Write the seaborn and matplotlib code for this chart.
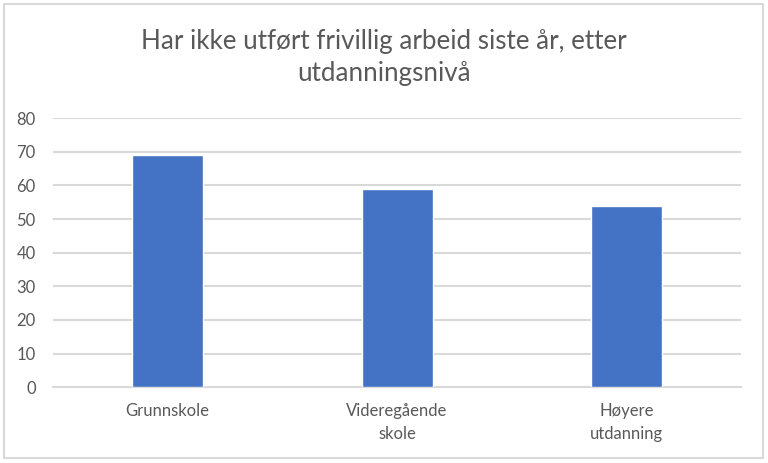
import matplotlib
matplotlib.use("Agg")
import matplotlib.pyplot as plt
import seaborn as sns
import pandas as pd
from matplotlib.patches import Rectangle

# data
categories = ["Grunnskole", "Videregående\nskole", "Høyere\nutdanning"]
values = [69, 59, 54]

df = pd.DataFrame({"kategori": categories, "andel": values})

sns.set_theme(style="white")
plt.rcParams["font.family"] = ["Lato", "DejaVu Sans"]

grey = "#595959"
gridc = "#d9d9d9"

fig = plt.figure(figsize=(7.68, 4.63), dpi=100)
ax = fig.add_axes([0.069, 0.1635, 0.896, 0.5815])

sns.barplot(data=df, x="kategori", y="andel", color="#4472c4",
            saturation=1, width=0.31, ax=ax, zorder=3)

ax.set_ylim(0, 80)
ax.set_yticks(range(0, 81, 10))
ax.yaxis.grid(True, color=gridc, linewidth=1.5, zorder=0)
ax.set_axisbelow(True)
for s in ["top", "right", "left"]:
    ax.spines[s].set_visible(False)
ax.spines["bottom"].set_color(gridc)
ax.spines["bottom"].set_linewidth(1.5)
ax.tick_params(axis="both", length=0, labelsize=12, labelcolor=grey)
ax.tick_params(axis="y", pad=12.5)
ax.tick_params(axis="x", pad=11)
for lab in ax.get_xticklabels():
    lab.set_linespacing(1.6)
ax.set_xlabel("")
ax.set_ylabel("")

fig.text(0.5, 0.875, "Har ikke utført frivillig arbeid siste år, etter\nutdanningsnivå",
         ha="center", va="center", fontsize=18.7, color=grey, linespacing=1.35)

# chart border
fig.patches.append(Rectangle((4 / 768, 5 / 463), 759 / 768, 454 / 463,
                             transform=fig.transFigure, fill=False,
                             edgecolor=gridc, linewidth=1.5))

fig.savefig("out.png", dpi=100, facecolor="white")
